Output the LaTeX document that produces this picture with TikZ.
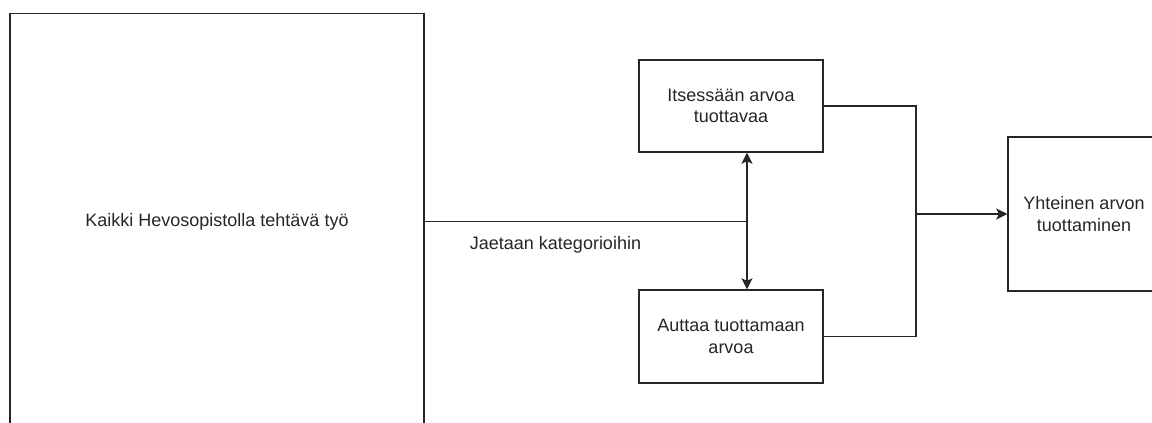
\documentclass[tikz,border=0pt]{standalone}
\usepackage{fontspec}
\setmainfont{Liberation Sans}
\usetikzlibrary{arrows.meta}
\begin{document}
\begin{tikzpicture}[x=1pt,y=-1pt,
  every node/.style={font=\fontsize{18}{21.6}\selectfont, text=black!85},
  box/.style={draw=black!85, line width=1.4pt, rectangle, inner sep=0pt, align=center},
  conn/.style={draw=black!85, line width=1.4pt},
  arr/.style={conn, -{Stealth[length=11pt,width=11pt,inset=2.5pt]}}]
  \useasboundingbox (0,0) rectangle (1152,423);
  \clip (0,0) rectangle (1152,423);

  % boxes
  \node[box, minimum width=414pt, minimum height=416.5pt] (work) at (217,221.75)
    {Kaikki Hevosopistolla tehtävä työ};
  \node[box, minimum width=184pt, minimum height=92pt] (self) at (731,106)
    {Itsessään arvoa\\tuottavaa};
  \node[box, minimum width=184pt, minimum height=93pt] (help) at (731,336.5)
    {Auttaa tuottamaan\\arvoa};
  \node[box, minimum width=152pt, minimum height=154pt] (joint) at (1084,214)
    {Yhteinen arvon\\tuottaminen};

  % splitting into categories
  \coordinate (split) at (747,221.75);
  \draw[conn] (work.east) -- (split);
  \draw[arr] (split) -- (split |- self.south);
  \draw[arr] (split) -- (split |- help.north);
  \node (lbl) at (555.5,245) {Jaetaan kategorioihin};

  % merging into joint value
  \coordinate (merge) at (916,214);
  \draw[conn] (self.east) -| (merge |- help.east) -- (help.east);
  \draw[arr] (merge |- joint.west) -- (joint.west);
\end{tikzpicture}
\end{document}
